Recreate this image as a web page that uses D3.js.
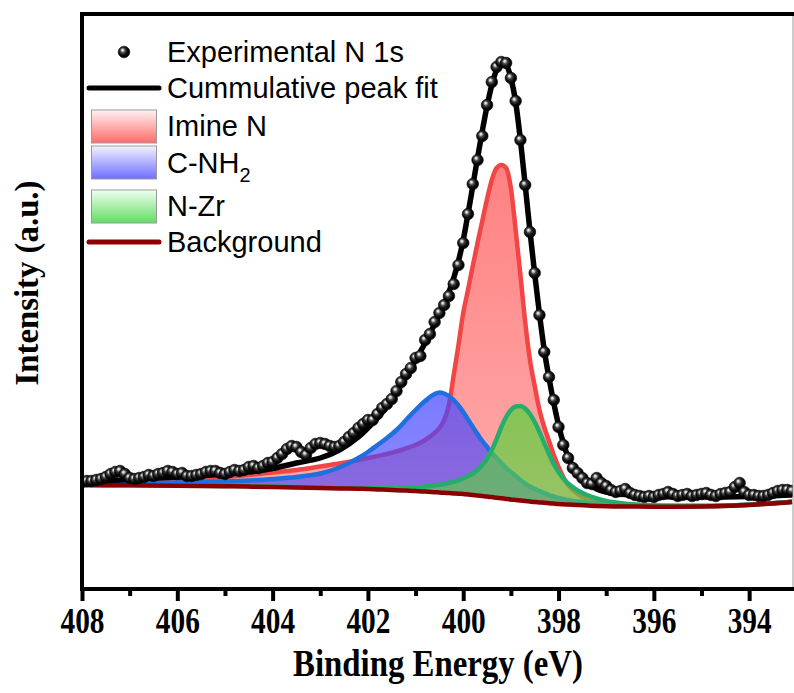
<!DOCTYPE html>
<html><head><meta charset="utf-8">
<script src="https://cdn.jsdelivr.net/npm/d3@7/dist/d3.min.js"></script>
<style>html,body{margin:0;padding:0;background:#fff;}svg{display:block;}</style>
</head><body>
<svg id="chart" width="794" height="693"></svg>
<script>
// ---------- data ----------
const expStart = 408.0, expStep = 0.1;          // measurement grid (eV)
const expIntensity = [
106,107,107,108,109,111,114,116,117,114,
110,109,110,111,113,112,114,115,117,116,
114,115,112,112,113,114,116,117,117,115,
114,116,118,117,118,121,122,120,122,125,
126,130,134,139,142,141,136,133,140,144,
145,144,142,141,142,146,151,155,160,164,
168,168,174,180,184,189,197,206,214,220,
230,232,248,254,266,275,283,292,304,323,
345,374,404,428,452,483,506,521,526,525,
510,487,448,403,356,315,273,236,211,188,
161,143,130,120,115,110,105,104,110,105,
102,98,96,97,99,95,93,92,91,92,
91,93,94,96,94,92,93,94,92,93,
94,95,93,92,94,95,96,101,105,96,
93,93,92,92,93,95,97,98,98,97];

const fitEnergy = [408,407,406,405,404.5,404,403.5,403,402.6,402.2,402.0,401.8,401.6,401.4,401.2,401.0,
400.8,400.6,400.5,400.4,400.3,400.2,400.1,400.0,399.9,399.8,399.7,399.6,399.5,399.4,399.3,399.2,399.1,399.0,
398.9,398.8,398.7,398.6,398.5,398.4,398.3,398.2,398.1,398.0,397.9,397.8,397.6,397.4,397.2,397.0,396.5,396.0,395.0,394.0,393.1];
const background = [103,102.7,102.3,101.8,101.4,101,100.5,100,99.6,99.2,99,98.6,98.2,97.8,97.4,97,
96.4,95.8,95.5,95.2,94.9,94.6,94.3,94,93.5,93,92.5,92,91.5,90.9,90.3,89.7,89.1,88.5,
88,87.5,87,86.5,86,85.6,85.2,84.8,84.4,84,83.7,83.4,82.9,82.5,82.1,81.8,81.5,81.3,81.5,83,86];
const imineN = [105,106.5,108.5,111,113,115.5,118,121.5,124.5,128,130,132,134,136.5,139.5,143,
148,155,160,168,183,213,243,275,298,322,345,367,389,408,420,423,420,400,
358,313,266,228,202,178,161,147,133,121,111,103,94,88.5,85.5,84,82.5,82,82,83.3,86.2];
const cNH2 = [104.5,105,105.5,106.5,107.5,109,111,114.5,120.5,130,136,143,150,158,168,178,
187,194,195.5,194.5,192,188,182.5,176,168.5,161,154,147,141,135,130,125,120,116,
112,108,104.5,101.5,99,97,95,93,91.5,90,89,88,86.5,85.3,84.3,83.5,82.5,82,82,83.3,86.2];
const nZr = [103,102.7,102.3,102,101.7,101.4,101,100.5,100.2,100,99.8,99.7,99.7,99.8,100.2,100.8,
101.6,102.6,103.2,104,105,106.2,107.7,109.5,111.7,114.5,118,123,129.5,138,149,161,171,178,
181.5,182,179.5,174,166,156,145,134,124,116,109.5,104.5,97.5,93,89.5,87,84,82.5,82,83.3,86.2];
const cumulativeFit = [106,108.5,111,114,116,119.5,125,130,138,151,160,170,182,196,211,228,
245,264,274,284,296,310,327,348,374,402,430,457,482,503,518,525,523,510,
486,448,403,357,314,274,238,210,185,163,145,131,115,105,99,96,93,91.5,91,91.5,93];

const xMajorTicks = [408,406,404,402,400,398,396,394];
const xMinorTicks = [407,405,403,401,399,397,395,393];
const legendLabels = ["Experimental N 1s","Cummulative peak fit","Imine N","C-NH|2","N-Zr","Background"];
const xTitle = "Binding Energy (eV)";
const yTitle = "Intensity (a.u.)";

// ---------- scales ----------
const x = d3.scaleLinear().domain([408, 393.08]).range([82, 793]);
const y = d3.scaleLinear().domain([0, 576]).range([588, 12]);

const svg = d3.select("#chart");
const defs = svg.append("defs");

function vgrad(id, stops){
  const g = defs.append("linearGradient").attr("id", id).attr("x1",0).attr("y1",0).attr("x2",0).attr("y2",1);
  stops.forEach(s => g.append("stop").attr("offset", s[0]).attr("stop-color", s[1]).attr("stop-opacity", s[2]));
}
vgrad("gRed",   [[0,"#ff5555",0.74],[1,"#ff5555",0.5]]);
vgrad("gBlue",  [[0,"#4646ff",0.72],[1,"#4646ff",0.62]]);
vgrad("gGreen", [[0,"#5ad23c",0.74],[1,"#5ad23c",0.62]]);
vgrad("lRed",   [[0,"#fff2f2",1],[1,"#ff6a6a",1]]);
vgrad("lBlue",  [[0,"#f2f2ff",1],[1,"#6e6eff",1]]);
vgrad("lGreen", [[0,"#f2fff2",1],[1,"#62dc62",1]]);
const rg = defs.append("radialGradient").attr("id","ball").attr("cx",0.45).attr("cy",0.45).attr("r",0.58).attr("fx",0.36).attr("fy",0.32);
[[0,"#ffffff"],[0.14,"#d0d0d0"],[0.38,"#404040"],[0.7,"#080808"],[1,"#000000"]].forEach(s=>rg.append("stop").attr("offset",s[0]).attr("stop-color",s[1]));
defs.append("clipPath").attr("id","plotClip").append("rect").attr("x",82).attr("y",14).attr("width",711).attr("height",575);

// ---------- curves ----------
const rows = fitEnergy.map((e,i)=>({e, bg:background[i], r:imineN[i], b:cNH2[i], g:nZr[i], f:cumulativeFit[i]}));
const areaOf = k => d3.area().x(d=>x(d.e)).y0(d=>y(d.bg)).y1(d=>y(d[k])).curve(d3.curveMonotoneX);
const lineOf = k => d3.line().x(d=>x(d.e)).y(d=>y(d[k])).curve(d3.curveMonotoneX);

const plot = svg.append("g").attr("clip-path","url(#plotClip)");
const comps = [
  {k:"r", fill:"url(#gRed)",   stroke:"#f24545"},
  {k:"b", fill:"url(#gBlue)",  stroke:"#1e6fe0"},
  {k:"g", fill:"url(#gGreen)", stroke:"#27ad6b"}
];
comps.forEach(c=>{
  plot.append("path").datum(rows).attr("d", areaOf(c.k)).attr("fill", c.fill);
  plot.append("path").datum(rows).attr("d", lineOf(c.k)).attr("fill","none")
      .attr("stroke", c.stroke).attr("stroke-width",4.5).attr("stroke-linejoin","round");
});
plot.append("path").datum(rows).attr("d", lineOf("bg")).attr("fill","none")
    .attr("stroke","#8b0000").attr("stroke-width",4.5);
plot.append("path").datum(rows).attr("d", lineOf("f")).attr("fill","none")
    .attr("stroke","#000").attr("stroke-width",5.5).attr("stroke-linejoin","round");

const expData = expIntensity.map((v,i)=>({e: expStart - i*expStep, v}));
plot.selectAll("circle.exp").data(expData).join("circle").attr("class","exp")
    .attr("cx", d=>x(d.e)).attr("cy", d=>y(d.v)).attr("r",5.8)
    .attr("fill","url(#ball)").attr("stroke","#000").attr("stroke-width",0.6);

// ---------- axes & frame ----------
const axMaj = svg.append("g").attr("transform","translate(0,589)")
  .call(d3.axisBottom(x).tickValues(xMajorTicks).tickSize(12).tickPadding(6).tickFormat(d3.format("d")));
axMaj.select(".domain").remove();
axMaj.selectAll(".tick line").attr("stroke","#000").attr("stroke-width",4);
axMaj.selectAll(".tick text").attr("fill","#000")
  .style("font-family","'Liberation Serif','Times New Roman',serif").style("font-weight","bold").style("font-size","36px")
  .attr("textLength",44).attr("lengthAdjust","spacingAndGlyphs");
const axMin = svg.append("g").attr("transform","translate(0,589)")
  .call(d3.axisBottom(x).tickValues(xMinorTicks).tickSize(7).tickFormat(""));
axMin.select(".domain").remove();
axMin.selectAll(".tick line").attr("stroke","#000").attr("stroke-width",4);

svg.append("line").attr("x1",793).attr("x2",793).attr("y1",14).attr("y2",589).attr("stroke","#999").attr("stroke-width",1);
svg.append("path").attr("d","M82,589V14H794").attr("fill","none").attr("stroke","#000").attr("stroke-width",4);
svg.append("line").attr("x1",80).attr("x2",794).attr("y1",589).attr("y2",589).attr("stroke","#000").attr("stroke-width",4);

svg.append("text").attr("x",438).attr("y",676).attr("text-anchor","middle")
  .style("font-family","'Liberation Serif','Times New Roman',serif").style("font-weight","bold").style("font-size","38px")
  .attr("textLength",290).attr("lengthAdjust","spacingAndGlyphs").text(xTitle);
svg.append("text").attr("transform","translate(38,283) rotate(-90)").attr("text-anchor","middle")
  .style("font-family","'Liberation Serif','Times New Roman',serif").style("font-weight","bold").style("font-size","34px")
  .attr("textLength",205).attr("lengthAdjust","spacingAndGlyphs").text(yTitle);

// ---------- legend ----------
const lg = svg.append("g").style("font-family","'Liberation Sans',Arial,sans-serif").style("font-size","29px");
const baselines = [62, 98, 136, 173, 216, 252];
const centers = [52, 88, 126, 162, 206, 242];
lg.append("circle").attr("cx",124).attr("cy",centers[0]).attr("r",5.8).attr("fill","url(#ball)").attr("stroke","#000").attr("stroke-width",0.6);
lg.append("line").attr("x1",89).attr("x2",159).attr("y1",centers[1]).attr("y2",centers[1]).attr("stroke","#000").attr("stroke-width",5).attr("stroke-linecap","round");
[["lRed",110],["lBlue",146],["lGreen",190]].forEach(b=>{
  lg.append("rect").attr("x",91.5).attr("y",b[1]).attr("width",65).attr("height",33)
    .attr("fill",`url(#${b[0]})`).attr("stroke","#9a9a9a").attr("stroke-width",1);
});
lg.append("line").attr("x1",89).attr("x2",159).attr("y1",centers[5]).attr("y2",centers[5]).attr("stroke","#8b0000").attr("stroke-width",5).attr("stroke-linecap","round");
legendLabels.forEach((t,i)=>{
  const parts = t.split("|");
  const tx = lg.append("text").attr("x",167).attr("y",baselines[i]).attr("fill","#000");
  tx.append("tspan").text(parts[0]);
  if(parts[1]) tx.append("tspan").attr("dy",9).style("font-size","20px").text(parts[1]);
});
</script>
</body></html>
